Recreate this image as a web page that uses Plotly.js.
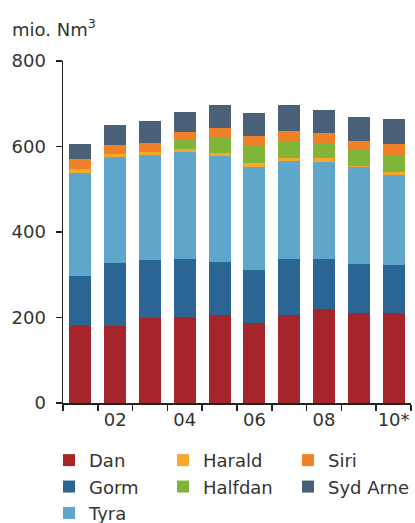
<!DOCTYPE html>
<html>
<head>
<meta charset="utf-8">
<script src="https://cdn.plot.ly/plotly-3.0.1.min.js"></script>
<style>html,body{margin:0;padding:0;background:#fff}#chart{width:415px;height:523px}</style>
</head>
<body>
<div id="chart"></div>
<script>
const years = ['01','02','03','04','05','06','07','08','09','10*'];
const tickLabels = ['','02','','04','','06','','08','','10*'];
const dan     = [183, 181, 200, 202, 205, 188, 205, 220, 211, 211];
const gorm    = [113, 147, 135, 136, 124, 123, 133, 118, 114, 112];
const tyra    = [243, 247, 245, 250, 248, 241, 229, 226, 227, 210];
const harald  = [8.5, 8, 7, 6, 7, 9.5, 7, 9.5, 3, 7];
const halfdan = [0, 0, 1, 22, 38, 40, 37, 34, 39, 40];
const siri    = [23, 21, 21, 19, 22, 23, 25, 24, 19, 26];
const sydArne = [36, 47, 51, 46, 53, 53, 61, 53, 56, 58];

const series = [
  {name:'Dan', y:dan, color:'#A6252A', legend:'legend'},
  {name:'Gorm', y:gorm, color:'#2A6594', legend:'legend'},
  {name:'Tyra', y:tyra, color:'#5EA6CA', legend:'legend'},
  {name:'Harald', y:harald, color:'#F7A729', legend:'legend2'},
  {name:'Halfdan', y:halfdan, color:'#80B53A', legend:'legend2'},
  {name:'Siri', y:siri, color:'#F08127', legend:'legend3'},
  {name:'Syd Arne', y:sydArne, color:'#4A6079', legend:'legend3'}
];

const fam = 'DejaVu Sans, Verdana, sans-serif';
const font = {family:fam, color:'#333', size:18};

const traces = series.map(s => ({
  type:'bar', x:years, y:s.y, name:s.name, legend:s.legend,
  marker:{color:s.color, line:{width:0}}
}));

function legendAt(px) {
  return {orientation:'v', xref:'container', yref:'container', x:px/415, y:0.155,
          xanchor:'left', yanchor:'top', traceorder:'normal', bgcolor:'rgba(0,0,0,0)',
          font:{family:fam, size:18, color:'#333'}, tracegroupgap:0, itemwidth:30};
}

const layout = {
  width:415, height:523,
  margin:{l:63, r:4, t:61, b:120, autoexpand:false},
  barmode:'stack', bargap:0.37,
  paper_bgcolor:'#fff', plot_bgcolor:'#fff',
  font:font,
  showlegend:true,
  legend:legendAt(49),
  legend2:legendAt(163),
  legend3:legendAt(288),
  xaxis:{type:'category', range:[-0.5, 9.5], tickmode:'array', tickvals:years, ticktext:tickLabels,
         tickson:'boundaries', ticks:'outside', ticklen:6, tickcolor:'#222', tickwidth:1.5, tickangle:0,
         showline:true, linecolor:'#222', linewidth:1.5, showgrid:false, zeroline:false, automargin:false,
         tickfont:{size:18, color:'#333', family:fam}, fixedrange:true},
  yaxis:{range:[0,800], tickvals:[0,200,400,600,800], ticks:'outside', ticklen:6, tickcolor:'#222',
         tickwidth:1.5, showline:true, linecolor:'#222', linewidth:1.5, showgrid:false, zeroline:false,
         ticklabelstandoff:6, automargin:false,
         tickfont:{size:18, color:'#333', family:fam}, fixedrange:true},
  annotations:[{text:'mio. Nm<sup>3</sup>', xref:'paper', yref:'paper', x:(10-63)/348, y:(403-28)/342,
                xanchor:'left', yanchor:'middle', showarrow:false,
                font:{size:18, color:'#333', family:fam}}]
};

Plotly.newPlot('chart', traces, layout, {staticPlot:true, displayModeBar:false});
</script>
</body>
</html>
